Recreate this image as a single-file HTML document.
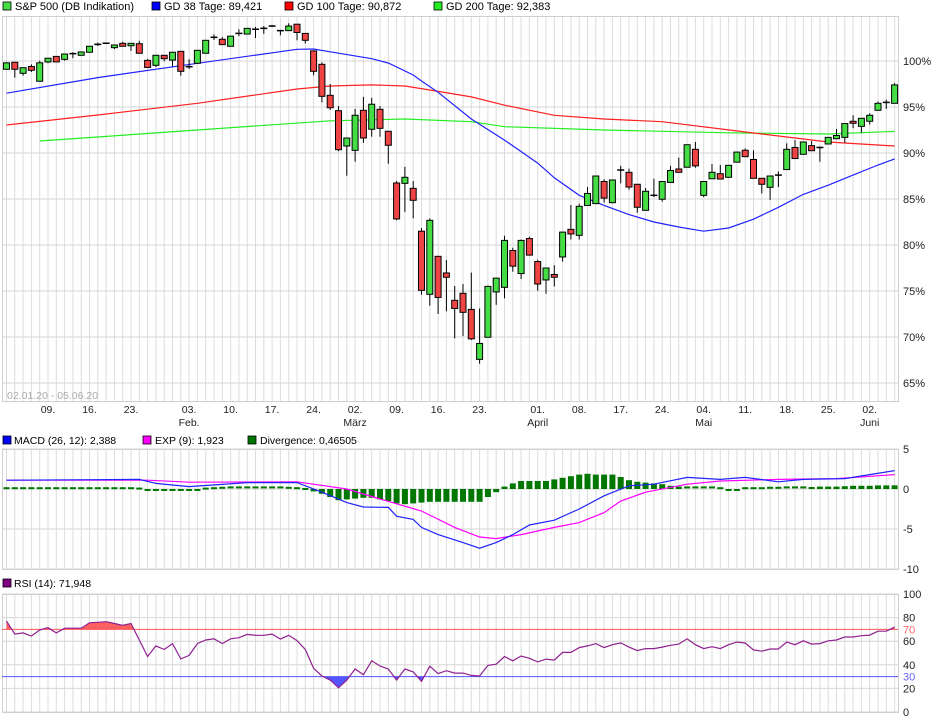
<!DOCTYPE html>
<html><head><meta charset="utf-8"><style>
html,body{margin:0;padding:0;background:#fff;}
svg{display:block;font-family:"Liberation Sans",Arial,sans-serif;}
</style></head><body>
<svg id="chart" width="940" height="722" viewBox="0 0 940 722" xmlns="http://www.w3.org/2000/svg">
<g id="legend-top" font-size="11">
  <rect x="3" y="2" width="8" height="8" fill="#44dd44" stroke="#000" stroke-width="0.8"/>
  <text x="15" y="10">S&amp;P 500 (DB Indikation)</text>
  <rect x="152" y="2" width="8" height="8" fill="#0000ff" stroke="#000" stroke-width="0.8"/>
  <text x="164" y="10">GD 38 Tage: 89,421</text>
  <rect x="285" y="2" width="8" height="8" fill="#ff0000" stroke="#000" stroke-width="0.8"/>
  <text x="297" y="10">GD 100 Tage: 90,872</text>
  <rect x="434" y="2" width="8" height="8" fill="#22ee22" stroke="#000" stroke-width="0.8"/>
  <text x="446" y="10">GD 200 Tage: 92,383</text>
</g>
<g id="main"></g>
<g id="macd"></g>
<g id="rsi"></g>
</svg>
<script>
// ---- price data (percent) ----
const opens=[99.1,99.86,98.66,99.4,97.8,99.9,100.5,100.18,100.75,100.62,100.95,101.8,101.92,101.45,101.92,101.66,101.88,100.07,99.53,100.62,100.1,101.05,99.4,99.75,100.84,102.55,102.36,101.6,102.98,102.93,103.43,103.53,103.78,103.32,103.3,104.0,103.0,101.1,99.64,96.27,94.6,90.76,90.29,94.64,92.58,94.75,92.36,86.74,86.7,86.16,81.5,74.64,78.77,76.96,73.99,74.75,73.0,67.57,69.97,74.9,75.4,79.4,76.9,80.7,78.2,76.2,76.8,78.7,81.7,81.05,84.3,84.5,86.9,84.6,88.1,87.9,86.6,83.77,85.35,84.97,86.8,88.26,88.45,90.4,85.4,87.2,87.75,87.36,89.0,90.3,89.3,87.25,86.27,87.55,88.2,90.6,89.86,90.8,90.5,90.98,91.55,91.7,93.45,92.9,93.45,94.64,95.6,95.4];
const highs=[99.85,99.9,99.3,99.64,100.03,100.3,100.5,100.76,100.95,100.98,101.6,102.0,101.98,101.74,102.1,101.92,102.2,100.2,100.62,100.62,100.95,101.05,100.2,101.2,102.25,102.9,102.6,102.7,103.45,103.55,103.7,103.8,103.9,103.32,104.1,104.0,103.0,101.1,99.86,97.5,95.1,91.63,94.8,96.1,96.0,95.1,92.36,86.96,88.5,86.96,81.85,82.9,78.77,78.37,75.54,75.76,77.0,73.1,75.6,76.4,81.0,79.7,80.6,80.9,78.4,77.5,77.8,81.4,84.35,84.5,86.3,87.5,87.15,87.07,88.6,88.3,86.6,86.2,87.2,86.9,88.6,89.5,90.9,91.2,86.9,88.8,88.7,88.66,90.1,90.5,90.3,87.25,87.5,88.0,91.05,91.4,91.2,91.3,90.7,91.7,92.6,93.2,94.1,93.77,94.3,95.6,95.8,97.6];
const lows=[99.1,98.2,98.4,98.8,97.8,99.75,99.9,100.03,100.3,100.62,100.95,101.63,101.9,101.3,101.6,101.1,100.84,99.3,99.35,99.97,99.42,98.4,99.13,99.75,100.84,102.28,101.78,101.6,102.7,102.93,102.5,102.95,103.7,102.8,103.3,102.25,101.9,98.45,95.5,94.67,90.2,87.53,89.05,91.1,91.77,91.77,88.84,82.7,83.6,82.9,74.6,73.4,72.5,72.8,69.86,70.1,69.67,67.1,69.97,73.5,74.2,77.1,76.3,78.9,75.03,74.7,75.5,78.2,80.6,80.6,84.3,84.5,84.6,84.6,86.7,86.0,83.5,83.77,85.2,84.7,86.8,87.9,88.45,88.4,85.2,87.2,87.17,87.36,89.0,89.6,87.25,85.6,84.9,86.3,88.2,89.4,89.86,90.25,89.05,90.98,91.55,91.1,92.7,92.2,93.1,94.64,94.8,95.4];
const closes=[99.8,99.1,99.27,98.99,99.8,100.3,99.9,100.76,100.85,100.98,101.6,101.82,101.94,101.74,101.6,101.92,100.84,99.3,100.62,100.25,100.95,98.88,99.36,101.16,102.25,102.6,101.78,102.7,103.02,103.55,103.47,103.57,103.82,103.28,103.8,103.1,102.25,98.88,96.16,94.92,90.36,91.63,94.1,91.63,95.3,92.68,90.84,82.83,87.36,84.86,75.07,82.68,74.3,76.49,73.1,72.68,69.8,69.3,75.5,76.4,80.5,77.7,80.5,78.9,75.76,77.5,76.5,81.4,81.2,84.2,85.6,87.5,85.1,87.07,88.2,86.3,84.1,85.84,85.45,86.9,88.1,87.9,90.9,88.6,86.9,87.9,87.17,88.66,90.1,89.6,87.25,86.6,87.5,87.65,90.4,89.4,91.2,90.25,90.7,91.7,91.9,93.2,93.23,93.77,94.1,95.4,95.4,97.4];
// moving averages (sampled at candle indices)
const gd38Idx=[0,11,23,35,37,39,44,46,49,50,52,56,60,64,66,69,72,75,78,81,84,87,90,93,96,99,102,105,107];
const gd38Val=[96.5,98.2,99.75,101.27,101.3,101.0,100.25,99.78,98.48,97.83,96.6,93.7,91.4,88.9,87.3,85.4,84.3,83.3,82.5,81.96,81.5,81.85,82.8,84.1,85.5,86.5,87.6,88.7,89.35];
const gd100Idx=[0,11,23,35,39,44,48,51,56,60,66,72,79,91,99,107];
const gd100Val=[93.04,94.13,95.4,96.96,97.28,97.4,97.28,96.85,96.1,95.2,94.1,93.7,93.4,92.07,91.2,90.76];
const gd200Idx=[4,23,39,48,56,60,72,87,99,107];
const gd200Val=[91.3,92.5,93.5,93.7,93.4,92.86,92.5,92.2,92.07,92.35];
const pctTicks=[100,95,90,85,80,75,70,65];
const dayTickIdx=[5,10,15,22,27,32,37,42,47,52,57,64,69,74,79,84,89,94,99,104];
const dayTickLbl=["09.","16.","23.","03.","10.","17.","24.","02.","09.","16.","23.","01.","08.","17.","24.","04.","11.","18.","25.","02."];
const monthIdx=[22,42,64,84,104];
const monthLbl=["Feb.","März","April","Mai","Juni"];
// MACD
const macdIdx=[0,8,16,18,22,29,35,38,41,43,46,47,49,50,52,55,57,59,61,63,66,69,72,75,78,82,86,89,93,96,101,107];
const macdVal=[1.1,1.15,1.2,0.7,0.3,0.8,0.8,-0.4,-1.7,-2.25,-2.3,-3.4,-3.8,-4.8,-5.7,-6.7,-7.4,-6.7,-5.7,-4.5,-3.9,-2.5,-0.85,0.4,0.6,1.45,1.2,1.45,0.9,1.2,1.3,2.3];
const expIdx=[0,17,22,35,41,45,50,54,57,59,62,66,69,72,74,77,82,86,93,100,107];
const expVal=[1.1,1.1,0.85,0.9,0,-1.25,-2.75,-4.8,-6.0,-6.2,-5.7,-4.8,-4.2,-2.95,-1.5,-0.4,0.6,1.0,1.2,1.3,1.8];
const divVal=[0.1,0.1,0.1,0.1,0.1,0.1,0.1,0.1,0.1,0.1,0.1,0.1,0.1,0.1,0.1,0.1,0.05,-0.1,-0.15,-0.15,-0.2,-0.15,-0.1,-0.1,0.05,0.1,0.15,0.2,0.2,0.2,0.2,0.2,0.2,0.2,0.15,0.1,0.0,-0.3,-0.6,-1.0,-1.4,-1.3,-1.2,-1.1,-1.1,-1.3,-1.5,-1.8,-1.9,-1.8,-1.7,-1.6,-1.6,-1.6,-1.6,-1.6,-1.6,-1.6,-1.0,-0.4,0.3,0.7,1.0,1.0,1.0,1.0,1.2,1.4,1.6,1.8,1.9,1.8,1.8,1.8,1.5,1.1,0.9,0.8,0.7,0.6,0.4,0.3,0.2,0.2,0.2,0.2,0.1,-0.1,-0.1,0.1,0.1,0.1,0.15,0.15,0.2,0.2,0.2,0.25,0.3,0.3,0.3,0.35,0.4,0.4,0.4,0.45,0.45,0.46];
const macdTicks=[5,0,-5,-10];
// RSI
const rsiVal=[77,66,67,64.4,69.5,71.4,67,71,71,71,75.6,76,76.5,75,73.5,75,61,47,56,53,58,45,48,58,61,62,58,62,63,65.8,65,65,66,61.8,65,60.5,53,37,30.5,27,20.5,27,36.4,31.5,43.4,39,36.4,27,36.4,34,26,38.8,32.5,35,33,33,31,30.5,39.5,40.5,47,43.4,47.5,45.5,42.5,44.8,44,50.5,50.5,54.6,56,58,54.6,57,58.6,55,52,53.7,53.7,55,56.5,57.5,62,57,53.7,55.3,53.7,57,59.2,58.5,52.6,51.5,53.4,53.4,59.2,57,60.3,57.5,58,60.3,61,63.6,63.6,64.7,65.2,68.5,68.5,72];
const rsiTicks=[100,80,60,40,20,0];

const NS="http://www.w3.org/2000/svg";
const X0=2,X1=898;
function xi(i){return 6.5+i*8.3;}
function yP(p){return 61+(100-p)*9.2;}
function yM(v){return 489-v*8;}
function yR(v){return 712-v*1.18;}
function mk(tag,attrs,parent){const e=document.createElementNS(NS,tag);for(const k in attrs)e.setAttribute(k,attrs[k]);parent.appendChild(e);return e;}
function txt(s,attrs,parent){const t=mk('text',attrs,parent);t.textContent=s;return t;}
function vgrid(g,y0,y1){for(let i=0;i<opens.length;i++){const l=mk('line',{x1:xi(i),x2:xi(i),y1:y0,y2:y1,stroke:'#dcdcdc','stroke-width':1},g);

}}
function frame(g,y0,y1){const r=mk('rect',{x:X0+0.5,y:y0+0.5,width:X1-X0,height:y1-y0,fill:'none',stroke:'#cfcfcf'},g);

}
function linePts(idx,val,fy){return idx.map((i,k)=>xi(i).toFixed(1)+','+fy(val[k]).toFixed(1)).join(' ');}

// ---- main panel ----
const gm=document.getElementById('main');
vgrid(gm,16,401);
pctTicks.forEach(p=>{const l=mk('line',{x1:X0,x2:X1,y1:yP(p),y2:yP(p),stroke:'#d6d6d6'},gm);


const t=txt(p+'%',{x:903,y:yP(p)+4,'font-size':11,fill:'#222'},gm);

});
frame(gm,16,401);
const dr=txt('02.01.20 - 05.06.20',{x:7,y:399,'font-size':10.5,fill:'#aaa'},gm);


[[gd200Idx,gd200Val,'#22ee22'],[gd100Idx,gd100Val,'#ff2020'],[gd38Idx,gd38Val,'#2222ff']].forEach((s,k)=>{
 const pl=mk('polyline',{points:linePts(s[0],s[1],yP),fill:'none',stroke:s[2],'stroke-width':1.2},gm);
 
 
});
for(let i=0;i<opens.length;i++){
 const x=xi(i),o=opens[i],c=closes[i];
 const g=mk('g',{},gm);
 
 
 mk('line',{x1:x,x2:x,y1:yP(highs[i]),y2:yP(lows[i]),stroke:'#000','stroke-width':1},g);
 const top=yP(Math.max(o,c)),bot=yP(Math.min(o,c));
 if(bot-top<2){mk('line',{x1:x-3.5,x2:x+3.5,y1:(top+bot)/2,y2:(top+bot)/2,stroke:'#000','stroke-width':1.5},g);}
 else mk('rect',{x:x-3,y:top,width:6,height:bot-top,fill:c>=o?'#44dd44':'#ee4444',stroke:'#000','stroke-width':1},g);
}
// x axis labels
dayTickIdx.forEach((i,k)=>{const t=txt(dayTickLbl[k],{x:xi(i),y:413,'font-size':10.5,'text-anchor':'middle',fill:'#222'},gm);

});
monthIdx.forEach((i,k)=>{const t=txt(monthLbl[k],{x:xi(i),y:426,'font-size':10.5,'text-anchor':'middle',fill:'#222'},gm);

});

// ---- MACD panel ----
const gc=document.getElementById('macd');
[['#0000ff',3,'MACD (26, 12): 2,388',14,'macd-legend'],['#ff00ff',143,'EXP (9): 1,923',155,'exp-legend'],['#007700',248,'Divergence: 0,46505',260,'divergence-legend']].forEach(a=>{
 const r=mk('rect',{x:a[1],y:436,width:8,height:8,fill:a[0],stroke:'#000','stroke-width':0.8},gc);
 
 
 const t=txt(a[2],{x:a[3],y:444,'font-size':10.5},gc);
 
 
});
vgrid(gc,449,569);
macdTicks.forEach(v=>{const l=mk('line',{x1:X0,x2:X1,y1:yM(v),y2:yM(v),stroke:'#d6d6d6'},gc);


const t=txt(String(v),{x:903,y:yM(v)+4,'font-size':11,fill:'#222'},gc);

});
frame(gc,449,569);
divVal.forEach((v,i)=>{const y0=yM(0),y1=yM(v);let top=Math.min(y0,y1),h=Math.max(Math.abs(y1-y0),2);
 const b=mk('rect',{x:xi(i)-3,y:v>=0?top-(h>Math.abs(y1-y0)?1:0):top,width:6,height:h,fill:'#007700'},gc);
 
 });
const pe=mk('polyline',{points:linePts(expIdx,expVal,yM),fill:'none',stroke:'#ff00ff','stroke-width':1.2},gc);


const pm=mk('polyline',{points:linePts(macdIdx,macdVal,yM),fill:'none',stroke:'#2222ff','stroke-width':1.2},gc);



// ---- RSI panel ----
const gr=document.getElementById('rsi');
const rs=mk('rect',{x:3,y:579,width:8,height:8,fill:'#800080',stroke:'#000','stroke-width':0.8},gr);


const rl=txt('RSI (14): 71,948',{x:14,y:587,'font-size':10.5},gr);


vgrid(gr,594,712);
rsiTicks.forEach(v=>{const l=mk('line',{x1:X0,x2:X1,y1:yR(v),y2:yR(v),stroke:'#d6d6d6'},gr);


const t=txt(String(v),{x:903,y:yR(v)+4,'font-size':11,fill:'#222'},gr);

});
frame(gr,594,712);
const defs=mk('defs',{},gr);
const c1=mk('clipPath',{id:'above70'},defs);mk('rect',{x:0,y:0,width:940,height:yR(70)},c1);
const c2=mk('clipPath',{id:'below30'},defs);mk('rect',{x:0,y:yR(30),width:940,height:722-yR(30)},c2);
const rIdx=rsiVal.map((v,i)=>i);
const rPts=linePts(rIdx,rsiVal,yR);
const last=rsiVal.length-1;
const fa=mk('polygon',{points:rPts+' '+xi(last)+','+yR(70)+' '+xi(0)+','+yR(70),fill:'#ff6060','clip-path':'url(#above70)'},gr);


const fb=mk('polygon',{points:rPts+' '+xi(last)+','+yR(30)+' '+xi(0)+','+yR(30),fill:'#5555ff','clip-path':'url(#below30)'},gr);


const l70=mk('line',{x1:X0,x2:X1,y1:yR(70),y2:yR(70),stroke:'#ff5555','stroke-width':1},gr);


const l30=mk('line',{x1:X0,x2:X1,y1:yR(30),y2:yR(30),stroke:'#5555ff','stroke-width':1},gr);


const t70=txt('70',{x:903,y:yR(70)+4,'font-size':11,fill:'#ff6666'},gr);


const t30=txt('30',{x:903,y:yR(30)+4,'font-size':11,fill:'#6666ff'},gr);


const rp=mk('polyline',{points:rPts,fill:'none',stroke:'#902090','stroke-width':1.2},gr);


</script>
</body></html>
